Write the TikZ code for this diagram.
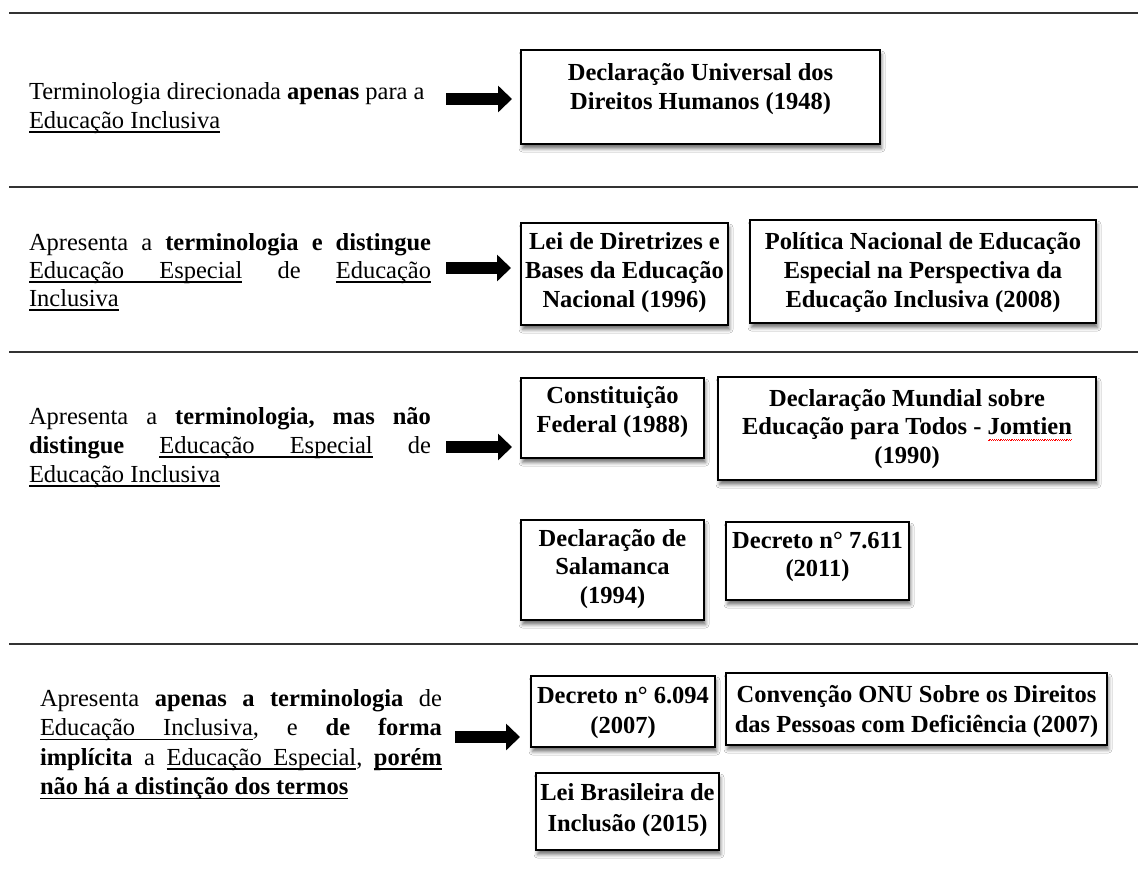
\documentclass[tikz,border=0pt]{standalone}
\usepackage{fontspec}
\setmainfont{Liberation Serif}
\usetikzlibrary{arrows.meta,shadows.blur}
\newsavebox\ulbox
\newcommand\ulw[1]{\sbox\ulbox{#1}\rlap{\rule[-4.6pt]{\wd\ulbox}{1.3pt}}\usebox\ulbox}
\newcommand\gap{\hskip 0.25em plus 1fil\relax}
\newcommand\ugap{\leaders\hrule height -3.3pt depth 4.6pt\hskip 0.25em plus 1fil\relax}
\newcommand\jline[1]{\hbox to 402pt{#1}}
\newcommand\spell[1]{\sbox\ulbox{#1}\rlap{\textcolor{red}{\lower5pt\hbox to \wd\ulbox{\xleaders\hbox{\rule[-0.9pt]{0.9pt}{0.9pt}\rule{0.9pt}{0.9pt}}\hfil}}}\usebox\ulbox}
\newcommand\btext[2][29pt]{\vtop{\hsize=400pt\parindent=0pt\centering\bfseries\baselineskip=#1 #2\par}}
\begin{document}
\begin{tikzpicture}[x=1pt,y=-1pt,
  every node/.style={inner sep=0pt, outer sep=0pt, font=\fontsize{24.5}{29}\selectfont},
  docbox/.style={draw=black, line width=2.4pt, fill=white, anchor=north west,
    blur shadow={shadow xshift=1.5pt, shadow yshift=-4.5pt, shadow blur radius=3.5pt, shadow opacity=55}},
  btxt/.style={anchor=base},
  ltxt/.style={anchor=base west},
  bigarrow/.style={line width=12pt, -{Triangle[length=14pt,width=26pt]}},
  sepline/.style={line width=1.6pt, draw=black!80}]
\fill[white] (0,0) rectangle (1138,871);
\useasboundingbox (0,0) rectangle (1138,871);

% separators
\draw[sepline] (9,13) -- (1138,13);
\draw[sepline] (9,187) -- (1138,187);
\draw[sepline] (9,352) -- (1138,352);
\draw[sepline] (9,644) -- (1138,644);

% section 1
\node[ltxt] (t1) at (29,99) {\vtop{\baselineskip=29pt
  \hbox{Terminologia direcionada \textbf{apenas} para a}
  \hbox{\ulw{Educação Inclusiva}}}};
\node[docbox, minimum width=359pt, minimum height=94pt] (b1) at (521,50) {};
\node[btxt] at (b1.center |- 0,80) {\btext{Declaração Universal dos\\Direitos Humanos (1948)}};
\coordinate (s1) at (446,99);
\draw[bigarrow, shorten >=9pt] (s1) -- (s1 -| b1.west);

% section 2
\node[ltxt] (t2) at (29,250) {\vtop{\baselineskip=28pt
  \jline{Apresenta\gap a\gap\textbf{terminologia}\gap\textbf{e}\gap\textbf{distingue}}
  \jline{\ulw{Educação}\ugap\ulw{Especial}\gap de\gap\ulw{Educação}}
  \hbox{\ulw{Inclusiva}}}};
\node[docbox, minimum width=207pt, minimum height=102pt] (b2) at (521,223) {};
\node[btxt] at (b2.center |- 0,249) {\btext{Lei de Diretrizes e\\Bases da Educação\\Nacional (1996)}};
\node[docbox, minimum width=346pt, minimum height=103pt] (b3) at (750,220) {};
\node[btxt] at (b3.center |- 0,249) {\btext{Política Nacional de Educação\\Especial na Perspectiva da\\Educação Inclusiva (2008)}};
\coordinate (s2) at (446,268);
\draw[bigarrow, shorten >=10pt] (s2) -- (s2 -| b2.west);

% section 3
\node[ltxt] (t3) at (29,424) {\vtop{\baselineskip=29pt
  \jline{Apresenta\gap a\gap\textbf{terminologia,}\gap\textbf{mas}\gap\textbf{não}}
  \jline{\textbf{distingue}\gap\ulw{Educação}\ugap\ulw{Especial}\gap de}
  \hbox{\ulw{Educação Inclusiva}}}};
\node[docbox, minimum width=183pt, minimum height=80pt] (b4) at (521,378) {};
\node[btxt] at (b4.center |- 0,403) {\btext{Constituição\\Federal (1988)}};
\node[docbox, minimum width=378pt, minimum height=103pt] (b5) at (718,377) {};
\node[btxt] at (b5.center |- 0,406) {\btext[28.5pt]{Declaração Mundial sobre\\Educação para Todos - \spell{Jomtien}\\(1990)}};
\node[docbox, minimum width=183pt, minimum height=100pt] (b6) at (521,520) {};
\node[btxt] at (b6.center |- 0,546) {\btext[28.5pt]{Declaração de\\Salamanca\\(1994)}};
\node[docbox, minimum width=183pt, minimum height=78pt] (b7) at (726,522) {};
\node[btxt] at (b7.center |- 0,548) {\btext[28pt]{Decreto n° 7.611\\(2011)}};
\coordinate (s3) at (446,447);
\draw[bigarrow, shorten >=9pt] (s3) -- (s3 -| b4.west);

% section 4
\node[ltxt] (t4) at (40,706) {\vtop{\baselineskip=29.5pt
  \jline{Apresenta\gap\textbf{apenas}\gap\textbf{a}\gap\textbf{terminologia}\gap de}
  \jline{\ulw{Educação}\ugap\ulw{Inclusiva},\gap e\gap\textbf{de}\gap\textbf{forma}}
  \jline{\textbf{implícita}\gap a\gap\ulw{Educação}\ugap\ulw{Especial},\gap\ulw{\textbf{porém}}}
  \hbox{\ulw{\textbf{não há a distinção dos termos}}}}};
\node[docbox, minimum width=184pt, minimum height=71pt] (b8) at (531,676) {};
\node[btxt] at (b8.center |- 0,703) {\btext[30pt]{Decreto n° 6.094\\(2007)}};
\node[docbox, minimum width=381pt, minimum height=72pt] (b9) at (726,673) {};
\node[btxt] at (b9.center |- 0,702) {\btext[30pt]{Convenção ONU Sobre os Direitos\\das Pessoas com Deficiência (2007)}};
\node[docbox, minimum width=183pt, minimum height=77pt] (b10) at (536,773) {};
\node[btxt] at (b10.center |- 0,800) {\btext[31pt]{Lei Brasileira de\\Inclusão (2015)}};
\coordinate (s4) at (455,737);
\draw[bigarrow, shorten >=11pt] (s4) -- (s4 -| b8.west);
\end{tikzpicture}
\end{document}
